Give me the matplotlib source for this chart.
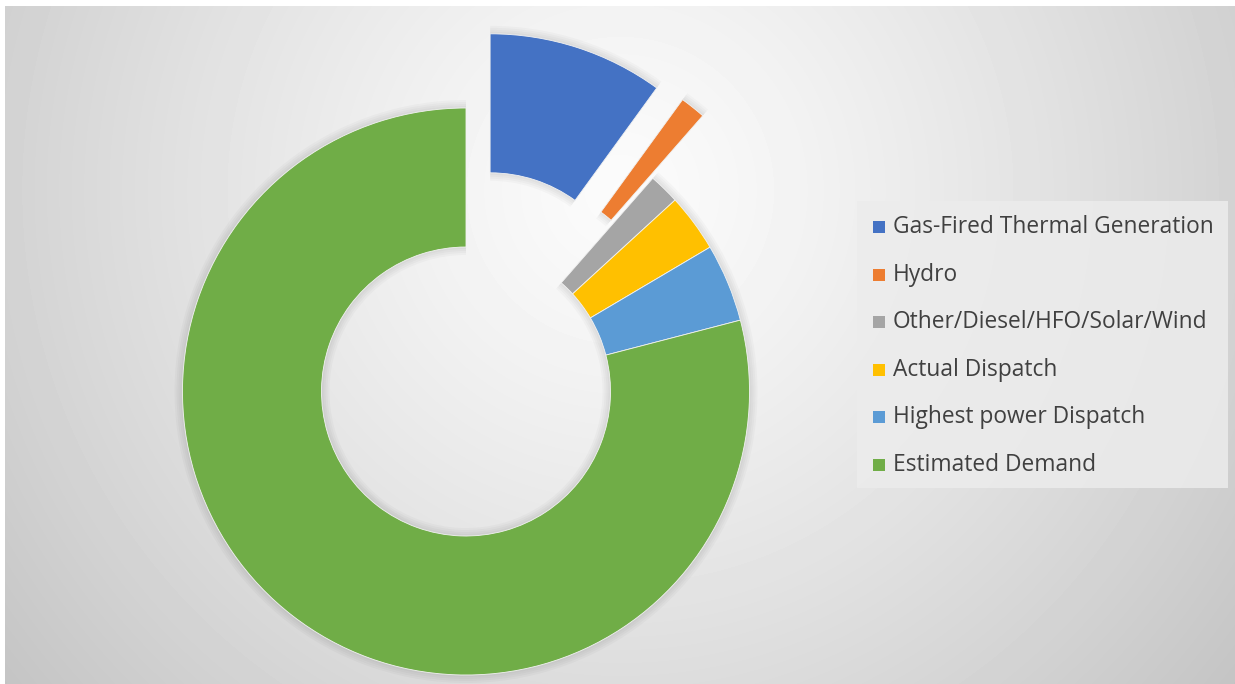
import numpy as np
import matplotlib.pyplot as plt
from matplotlib.patches import Wedge, Rectangle

# share of generation / dispatch / demand (%)
labels = ['Gas-Fired Thermal Generation', 'Hydro', 'Other/Diesel/HFO/Solar/Wind',
          'Actual Dispatch', 'Highest power Dispatch', 'Estimated Demand']
values = [10.0, 1.45, 1.75, 3.3, 4.45, 79.05]
colors = ['#4472C4', '#ED7D31', '#A5A5A5', '#FFC000', '#5B9BD5', '#70AD47']
explode = [78, 80, 0, 0, 0, 0]

W, H = 1235, 684
fig = plt.figure(figsize=(W / 100, H / 100), dpi=100)
ax = fig.add_axes([0, 0, 1, 1])

# soft radial backdrop, brightest around the ring
yy, xx = np.mgrid[0:H, 0:W]
d = np.hypot(xx - 620, yy - 190)
bg = 0.985 - 0.22 * np.clip(d / 800, 0, 1) ** 1.25
bg[:6, :] = 1.0
bg[:, :5] = 1.0
ax.imshow(bg, cmap='gray', vmin=0, vmax=1, extent=(0, W, 0, H),
          origin='upper', zorder=0, interpolation='bilinear')

cx, cy, R, ring = 466, H - 391.5, 283.5, 139

wedges, _ = ax.pie(values, colors=colors, explode=explode, startangle=90,
                   counterclock=False, center=(cx, cy), radius=R,
                   wedgeprops=dict(width=ring, edgecolor='#f2f2f2', linewidth=0.6),
                   frame=True)

# faint halo around every slice
for w in wedges:
    w.set_zorder(3)
    for s in [2, 4, 6, 8]:
        ax.add_patch(Wedge(w.center, w.r + s, w.theta1, w.theta2,
                           width=w.width + 2 * s, color='k', alpha=0.025,
                           lw=0, zorder=2))

ax.set_xlim(0, W)
ax.set_ylim(0, H)
ax.set_aspect('auto')
ax.axis('off')

# legend panel
ax.add_patch(Rectangle((857, H - 488), 371, 287, facecolor='#ececec',
                       edgecolor='none', alpha=0.85, zorder=4))
row_y = H - np.array([227, 275, 322, 370, 417, 465])
for yy_, lab, col in zip(row_y, labels, colors):
    ax.add_patch(Rectangle((873, yy_ - 6), 12, 12, facecolor=col,
                           edgecolor='none', zorder=5))
    ax.text(893, yy_, lab, fontsize=16.4, color='#404040', va='center',
            ha='left', family='Open Sans', zorder=5)

fig.savefig('out.png', dpi=100)
